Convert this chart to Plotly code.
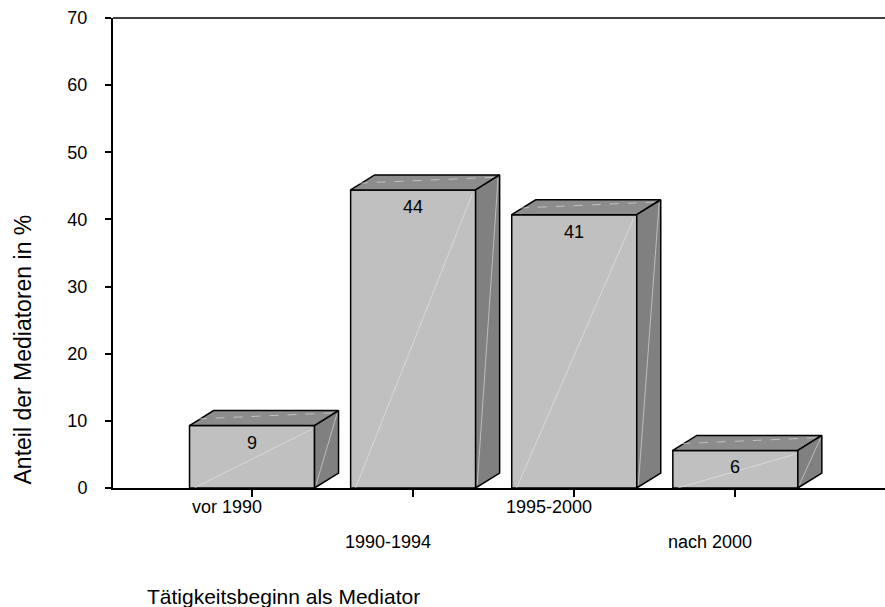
import plotly.graph_objects as go

categories = ["vor 1990", "1990-1994", "1995-2000", "nach 2000"]
values = [9.3, 44.4, 40.7, 5.6]
y_ticks = [0, 10, 20, 30, 40, 50, 60, 70]

half_w = 0.388
dx = 0.149
dy = 2.23

font = "Liberation Sans, Arial, sans-serif"

fig = go.Figure()


def face(xs, ys, color):
    fig.add_trace(
        go.Scatter(
            x=xs, y=ys, mode="lines", fill="toself", fillcolor=color,
            line=dict(color="black", width=1.5), hoverinfo="skip", showlegend=False
        )
    )


def streak(xs, ys, dash="solid"):
    fig.add_trace(
        go.Scatter(
            x=xs, y=ys, mode="lines",
            line=dict(color="rgba(235,235,235,0.7)", width=0.8, dash=dash),
            hoverinfo="skip", showlegend=False
        )
    )


for i, v in enumerate(values):
    x0, x1 = i - half_w, i + half_w
    # front face
    face([x0, x1, x1, x0, x0], [0, 0, v, v, 0], "#c0c0c0")
    streak([x0 + 0.03, x1 - 0.02], [0, v - 0.6])
    # top face
    face([x0, x1, x1 + dx, x0 + dx, x0], [v, v, v + dy, v + dy, v], "#8c8c8c")
    streak([x0 + 0.05, x1 + dx - 0.02], [v + dy * 0.45, v + dy * 0.85], dash="dash")
    # side face
    face([x1, x1 + dx, x1 + dx, x1, x1], [0, dy, v + dy, v, 0], "#808080")
    streak([x1 + 0.01, x1 + dx - 0.01], [0.5, v + dy - 0.5])

    fig.add_annotation(
        x=i, y=v, text=str(round(v)), showarrow=False,
        yanchor="top", yshift=-5, font=dict(family=font, size=18, color="black")
    )

# staggered category labels
for i, name in enumerate(categories):
    fig.add_annotation(
        x=i, xref="x", y=0, yref="paper", text=name, showarrow=False,
        xshift=-25, yshift=-19 if i % 2 == 0 else -54, yanchor="middle",
        font=dict(family=font, size=18, color="black")
    )

# top frame line
fig.add_shape(
    type="line", xref="paper", yref="paper", x0=0, x1=1, y0=1, y1=1,
    line=dict(color="#404040", width=2)
)

fig.add_annotation(
    text="Anteil der Mediatoren in %", xref="paper", yref="paper",
    x=-0.117, y=0.294, textangle=-90, showarrow=False,
    xanchor="center", yanchor="middle", font=dict(family=font, size=23, color="black")
)
fig.add_annotation(
    text="Tätigkeitsbeginn als Mediator", xref="paper", yref="paper",
    x=0.0415, y=0, yshift=-108, showarrow=False,
    xanchor="left", yanchor="middle", font=dict(family=font, size=21, color="black")
)

fig.update_layout(
    width=885,
    height=607,
    margin=dict(l=113, r=0, t=18, b=119),
    plot_bgcolor="white",
    paper_bgcolor="white",
    font=dict(family=font, size=18, color="black")
)

fig.update_xaxes(
    range=[-0.863, 3.929],
    tickvals=[0, 1, 2, 3],
    showticklabels=False,
    ticks="outside",
    ticklen=7,
    tickwidth=1.5,
    tickcolor="black",
    showline=True,
    linecolor="black",
    linewidth=2,
    showgrid=False,
    zeroline=False
)

fig.update_yaxes(
    range=[0, 70],
    tickvals=y_ticks,
    ticks="outside",
    ticklen=6,
    tickwidth=1.5,
    tickcolor="black",
    ticklabelstandoff=14,
    tickfont=dict(family=font, size=18),
    showline=True,
    linecolor="black",
    linewidth=2,
    showgrid=False,
    zeroline=False
)

fig.write_html(
    "out.html",
    config={"displayModeBar": False},
    post_script="document.body.style.margin='0';"
)
